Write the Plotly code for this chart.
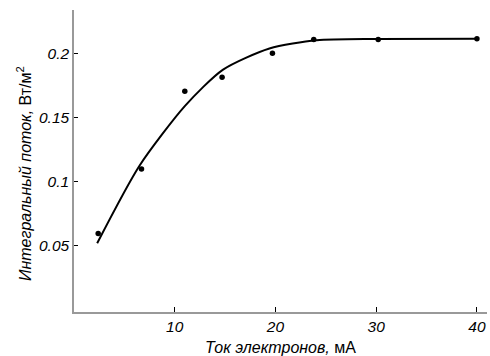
import plotly.graph_objects as go

# Measured points
current_mA = [2.4, 6.7, 11.0, 14.7, 19.7, 23.8, 30.2, 40.0]
flux = [0.0595, 0.110, 0.1706, 0.1815, 0.2002, 0.211, 0.211, 0.2116]

# Fitted curve
curve_x = [2.3, 6.5, 11.0, 14.8, 19.4, 24.1, 30.1, 40.0]
curve_y = [0.052, 0.1125, 0.159, 0.1875, 0.204, 0.2104, 0.2114, 0.2116]

x_ticks = [10, 20, 30, 40]
x_labels = ["10", "20", "30", "40"]
y_ticks = [0.05, 0.1, 0.15, 0.2]
y_labels = ["0.05", "0.1", "0.15", "0.2"]

x_title = "<i>Ток электронов,</i> мА"
y_title = "<i>Интегральный поток,</i> Вт/м<sup>2</sup>"

fig = go.Figure()
fig.add_trace(go.Scatter(x=curve_x, y=curve_y, mode="lines",
                         line=dict(color="black", width=2, shape="spline", smoothing=0.7),
                         showlegend=False, hoverinfo="skip"))
fig.add_trace(go.Scatter(x=current_mA, y=flux, mode="markers",
                         marker=dict(color="black", size=5.5),
                         showlegend=False))

font_family = "Liberation Sans, Arial, sans-serif"
fig.update_layout(
    width=490, height=356,
    margin=dict(l=74, r=3, t=10, b=44),
    plot_bgcolor="white", paper_bgcolor="white",
    font=dict(family=font_family, size=15.5, color="black"),
    xaxis=dict(range=[0, 41.0], tickvals=x_ticks, ticktext=x_labels,
               ticks="inside", ticklen=5, tickcolor="black", tickwidth=1,
               showline=True, linecolor="#999999", linewidth=1.5,
               showgrid=False, zeroline=False,
               tickfont=dict(size=15.5, style="italic"),
               title=dict(text=x_title, font=dict(size=16), standoff=7)),
    yaxis=dict(range=[-0.0017, 0.234], tickvals=y_ticks, ticktext=y_labels,
               ticks="inside", ticklen=4, tickcolor="black", tickwidth=1,
               showline=True, linecolor="#999999", linewidth=1.5,
               showgrid=False, zeroline=False,
               tickfont=dict(size=15.5, style="italic")),
    annotations=[dict(text=y_title, textangle=-90, xref="paper", yref="paper",
                      x=0, y=0.457, xshift=-50, xanchor="center", yanchor="middle",
                      showarrow=False, font=dict(size=16))],
)

fig.write_html("out.html", config={"displayModeBar": False},
               post_script="document.body.style.margin='0';")
